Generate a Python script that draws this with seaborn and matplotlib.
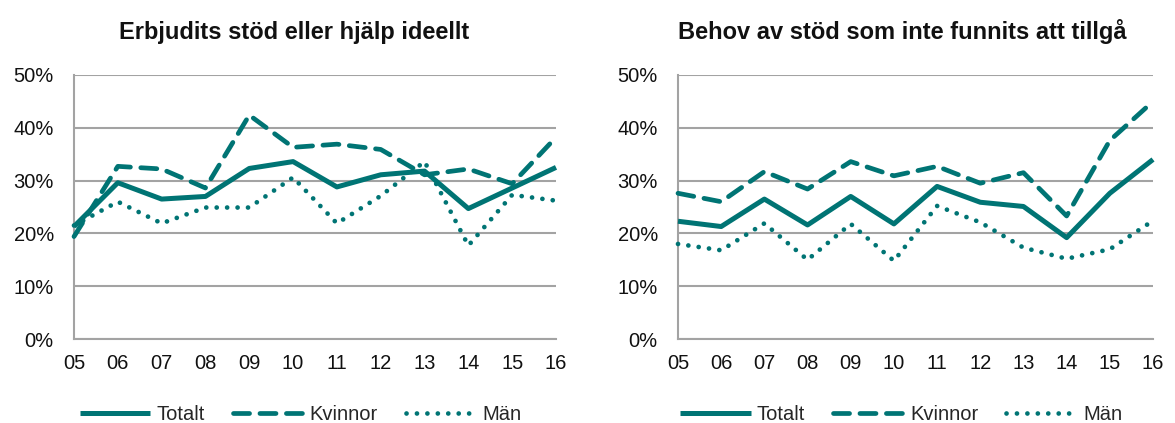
import matplotlib
matplotlib.use("Agg")
import matplotlib.pyplot as plt
import numpy as np
import pandas as pd
import seaborn as sns

years = ["05", "06", "07", "08", "09", "10", "11", "12", "13", "14", "15", "16"]

# left panel: Erbjudits stöd eller hjälp ideellt (percent)
left_totalt = [21.3, 29.6, 26.5, 27.0, 32.3, 33.6, 28.8, 31.1, 31.8, 24.7, 28.6, 32.5]
left_kvinnor = [19.4, 32.7, 32.2, 28.6, 42.4, 36.3, 36.9, 35.9, 31.1, 32.2, 29.4, 38.2]
left_man = [21.5, 26.0, 21.9, 24.9, 24.9, 30.6, 21.9, 27.1, 33.6, 17.7, 27.3, 26.2]

# right panel: Behov av stöd som inte funnits att tillgå (percent)
right_totalt = [22.3, 21.3, 26.5, 21.6, 27.0, 21.8, 28.9, 25.9, 25.1, 19.2, 27.6, 34.0]
right_kvinnor = [27.6, 26.0, 31.7, 28.4, 33.6, 30.9, 32.7, 29.5, 31.5, 23.3, 37.6, 45.0]
right_man = [18.0, 16.8, 21.9, 15.0, 21.8, 14.8, 25.2, 22.1, 17.3, 15.2, 17.0, 22.4]

titles = ["Erbjudits stöd eller hjälp ideellt", "Behov av stöd som inte funnits att tillgå"]
series_names = ["Totalt", "Kvinnor", "Män"]

sns.set_style("white")
plt.rcParams["font.family"] = ["Liberation Sans", "DejaVu Sans"]

teal = "#007474"
grid_col = "#a3a3a3"
styles = {
    "Totalt": dict(linestyle="-", lw=3.6, solid_capstyle="butt"),
    "Kvinnor": dict(linestyle=(0, (3.4, 2.2)), lw=3.4, dash_capstyle="round"),
    "Män": dict(linestyle=(0, (0.01, 2.2)), lw=3.4, dash_capstyle="round"),
}

fig = plt.figure(figsize=(11.75, 4.23), dpi=100)
ax1 = fig.add_axes([74 / 1175, 1 - 339 / 423, 482 / 1175, 264 / 423])
ax2 = fig.add_axes([678 / 1175, 1 - 339 / 423, 475 / 1175, 264 / 423])

panels = [
    (ax1, [left_totalt, left_kvinnor, left_man], 0.456, titles[0]),
    (ax2, [right_totalt, right_kvinnor, right_man], 0.472, titles[1]),
]

x = np.arange(len(years))
yt = np.arange(0, 0.51, 0.1)
for ax, data, tx, title in panels:
    df = pd.DataFrame({"x": np.tile(x, 3),
                       "value": np.concatenate(data) / 100,
                       "serie": np.repeat(series_names, len(years))})
    for name in series_names:
        sub = df[df["serie"] == name]
        sns.lineplot(data=sub, x="x", y="value", ax=ax, color=teal, label=name,
                     clip_on=False, zorder=3, **styles[name])
    ax.set_xlim(0, len(years) - 1)
    ax.set_ylim(0, 0.5)
    ax.set_xticks(x)
    ax.set_xticklabels(years)
    ax.set_yticks(yt)
    ax.set_yticklabels([f"{int(round(v * 100))}%" for v in yt])
    ax.set_xlabel("")
    ax.set_ylabel("")
    ax.grid(axis="y", color=grid_col, lw=1.5)
    ax.set_axisbelow(True)
    for s in ["top", "right"]:
        ax.spines[s].set_visible(False)
    for s in ["left", "bottom"]:
        ax.spines[s].set_color(grid_col)
        ax.spines[s].set_linewidth(1.5)
    ax.tick_params(axis="y", direction="inout", length=7, width=1.5, color=grid_col,
                   labelsize=14.5, pad=11, labelcolor="#111111")
    ax.tick_params(axis="x", direction="out", length=5, width=1.5, color=grid_col,
                   labelsize=14.5, pad=6, labelcolor="#111111")
    ax.set_title(title, fontsize=17, fontweight="bold",
                 x=tx, y=1.135, pad=0, color="#111111")
    ax.legend(loc="center", bbox_to_anchor=(0.47, -0.285), ncol=3, frameon=False,
              fontsize=14.5, handlelength=3.5, handletextpad=0.3, columnspacing=1.4)

fig.savefig("out.png", dpi=100)
